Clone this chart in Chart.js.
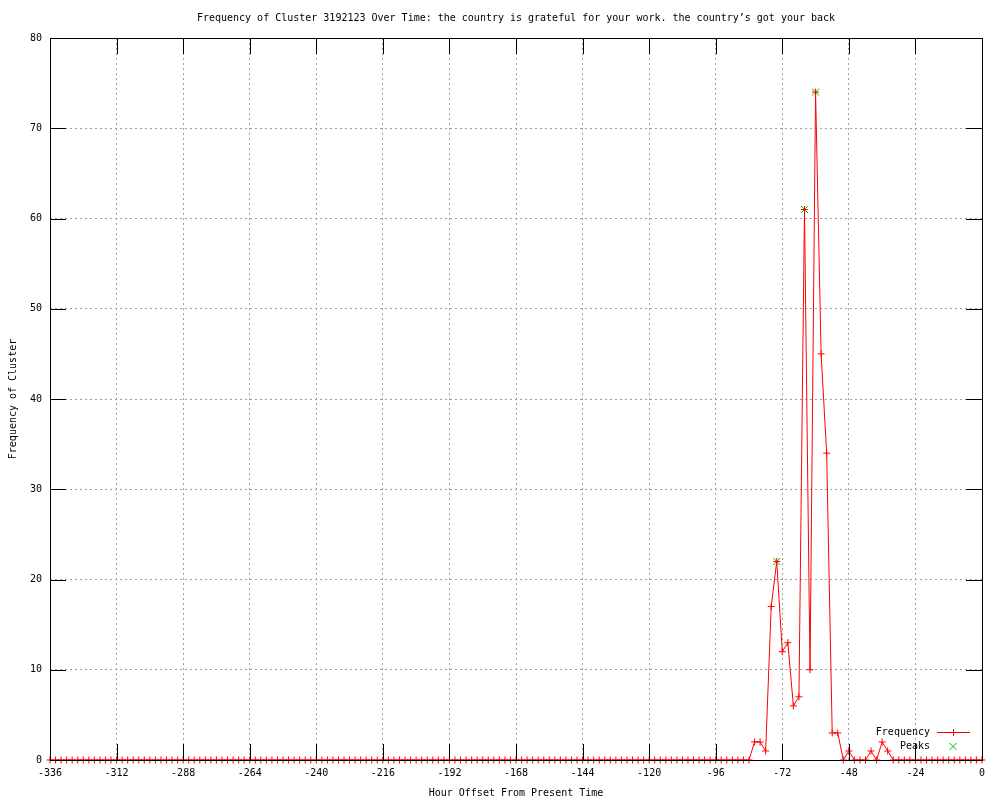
<!DOCTYPE html>
<html>
<head>
<meta charset="utf-8">
<script src="https://cdn.jsdelivr.net/npm/chart.js@4/dist/chart.umd.min.js"></script>
<style>
html,body{margin:0;padding:0;background:#fff;}
#wrap{width:1000px;height:800px;}
</style>
</head>
<body>
<div id="wrap"><canvas id="c" width="1000" height="800"></canvas></div>
<script>
// ---- Data ----
const chartTitle = "Frequency of Cluster 3192123 Over Time: the country is grateful for your work. the country\u2019s got your back";
const xAxisTitle = "Hour Offset From Present Time";
const yAxisTitle = "Frequency of Cluster";
const seriesLabels = ["Frequency", "Peaks"];

const hourStart = -336;   // first sample
const hourStep = 2;       // hours between samples

// one value every 2 hours, from -336 to 0
const frequency = [
  0,0,0,0,0,0,0,0,0,0,0,0,        // -336 .. -314
  0,0,0,0,0,0,0,0,0,0,0,0,        // -312 .. -290
  0,0,0,0,0,0,0,0,0,0,0,0,        // -288 .. -266
  0,0,0,0,0,0,0,0,0,0,0,0,        // -264 .. -242
  0,0,0,0,0,0,0,0,0,0,0,0,        // -240 .. -218
  0,0,0,0,0,0,0,0,0,0,0,0,        // -216 .. -194
  0,0,0,0,0,0,0,0,0,0,0,0,        // -192 .. -170
  0,0,0,0,0,0,0,0,0,0,0,0,        // -168 .. -146
  0,0,0,0,0,0,0,0,0,0,0,0,        // -144 .. -122
  0,0,0,0,0,0,0,0,0,0,0,0,        // -120 .. -98
  0,0,0,0,0,0,0,2,2,1,17,22,      // -96 .. -74
  12,13,6,7,61,10,74,45,34,3,3,0, // -72 .. -50
  1,0,0,0,1,0,2,1,0,0,0,0,        // -48 .. -26
  0,0,0,0,0,0,0,0,0,0,0,0,        // -24 .. -2
  0                               // 0
];

const peakHours  = [-74, -64, -60];
const peakValues = [22, 61, 74];

const xTickValues = [-336,-312,-288,-264,-240,-216,-192,-168,-144,-120,-96,-72,-48,-24,0];
const yTickValues = [0,10,20,30,40,50,60,70,80];

// ---- Build ----
const hours = frequency.map((_, i) => hourStart + i * hourStep);
const freqPoints = hours.map((h, i) => ({x: h, y: frequency[i]}));
const peakPoints = peakHours.map((h, i) => ({x: h, y: peakValues[i]}));

const FONT = 'DejaVu Sans Mono';
const RED = '#ff0000';
const GREEN = '#00c000';
const TICK_LEN = 16;

const gnuplotFrame = {
  id: 'gnuplotFrame',
  afterDatasetsDraw(chart) {
    const {ctx, chartArea: a, scales} = chart;
    ctx.save();
    ctx.strokeStyle = '#000';
    ctx.lineWidth = 1;
    ctx.beginPath();
    scales.x.ticks.forEach(t => {
      const px = Math.round(scales.x.getPixelForValue(t.value)) + 0.5;
      ctx.moveTo(px, a.bottom); ctx.lineTo(px, a.bottom - TICK_LEN);
      ctx.moveTo(px, a.top); ctx.lineTo(px, a.top + TICK_LEN);
    });
    scales.y.ticks.forEach(t => {
      const py = Math.round(scales.y.getPixelForValue(t.value)) + 0.5;
      ctx.moveTo(a.left, py); ctx.lineTo(a.left + TICK_LEN, py);
      ctx.moveTo(a.right, py); ctx.lineTo(a.right - TICK_LEN, py);
    });
    ctx.stroke();
    ctx.strokeRect(Math.round(a.left) + 0.5, Math.round(a.top) + 0.5,
                   Math.round(a.right - a.left), Math.round(a.bottom - a.top));
    ctx.restore();
  },
  afterDraw(chart) {
    const {ctx, chartArea: a} = chart;
    ctx.save();
    // title
    ctx.fillStyle = '#000';
    ctx.font = '10px "' + FONT + '"';
    ctx.textAlign = 'center';
    ctx.textBaseline = 'middle';
    ctx.fillText(chartTitle, (a.left + a.right) / 2, 18);
    // legend (inside, bottom right)
    const ds = chart.data.datasets;
    const lx = a.right - 52;
    const sx0 = a.right - 45, sx1 = a.right - 12, sc = a.right - 29;
    ds.forEach((d, i) => {
      const y = a.bottom - 28 + i * 14;
      ctx.fillStyle = '#000';
      ctx.textAlign = 'right';
      ctx.fillText(d.label, lx, y);
      ctx.strokeStyle = d.borderColor;
      ctx.lineWidth = 1;
      ctx.beginPath();
      const py = Math.round(y) + 0.5;
      if (d.showLine !== false) {
        ctx.moveTo(sx0, py); ctx.lineTo(sx1, py);
      }
      if (d.pointStyle === 'cross') {
        ctx.moveTo(sc - 3.5, py); ctx.lineTo(sc + 3.5, py);
        ctx.moveTo(sc + 0.5, py - 3.5); ctx.lineTo(sc + 0.5, py + 3.5);
      } else {
        ctx.moveTo(sc - 3.5, py - 3.5); ctx.lineTo(sc + 3.5, py + 3.5);
        ctx.moveTo(sc + 3.5, py - 3.5); ctx.lineTo(sc - 3.5, py + 3.5);
      }
      ctx.stroke();
    });
    ctx.restore();
  }
};

new Chart(document.getElementById('c'), {
  type: 'line',
  data: {
    datasets: [
      {
        label: seriesLabels[0],
        data: freqPoints,
        borderColor: RED,
        backgroundColor: RED,
        borderWidth: 1,
        pointStyle: 'cross',
        pointRadius: 3.5,
        pointBorderWidth: 1,
        pointBorderColor: RED,
        tension: 0,
        fill: false,
        clip: false
      },
      {
        label: seriesLabels[1],
        data: peakPoints,
        showLine: false,
        borderColor: GREEN,
        backgroundColor: GREEN,
        pointStyle: 'crossRot',
        pointRadius: 5,
        pointBorderWidth: 1,
        pointBorderColor: GREEN,
        clip: false
      }
    ]
  },
  options: {
    responsive: false,
    animation: false,
    devicePixelRatio: 1,
    layout: {padding: {left: 0, right: 18, top: 38, bottom: 0}},
    plugins: {
      legend: {display: false},
      title: {display: false},
      tooltip: {enabled: false}
    },
    scales: {
      x: {
        type: 'linear',
        min: -336,
        max: 0,
        afterBuildTicks: s => { s.ticks = xTickValues.map(v => ({value: v})); },
        afterFit: s => { s.height = 40; },
        ticks: {
          autoSkip: false,
          maxRotation: 0,
          padding: 7,
          color: '#000',
          font: {family: FONT, size: 10},
          callback: v => String(v)
        },
        grid: {color: '#a0a0a0', lineWidth: 1, drawTicks: false},
        border: {display: false, dash: [2, 3]},
        title: {
          display: true, text: xAxisTitle, color: '#000',
          font: {family: FONT, size: 10},
          padding: {top: 0, bottom: 1}
        }
      },
      y: {
        type: 'linear',
        min: 0,
        max: 80,
        afterBuildTicks: s => { s.ticks = yTickValues.map(v => ({value: v})); },
        afterFit: s => { s.width = 50; },
        ticks: {
          padding: 8,
          color: '#000',
          font: {family: FONT, size: 10},
          callback: v => String(v)
        },
        grid: {color: '#a0a0a0', lineWidth: 1, drawTicks: false},
        border: {display: false, dash: [2, 3]},
        title: {
          display: true, text: yAxisTitle, color: '#000',
          font: {family: FONT, size: 10},
          padding: {top: 7, bottom: 0}
        }
      }
    }
  },
  plugins: [gnuplotFrame]
});
</script>
</body>
</html>
